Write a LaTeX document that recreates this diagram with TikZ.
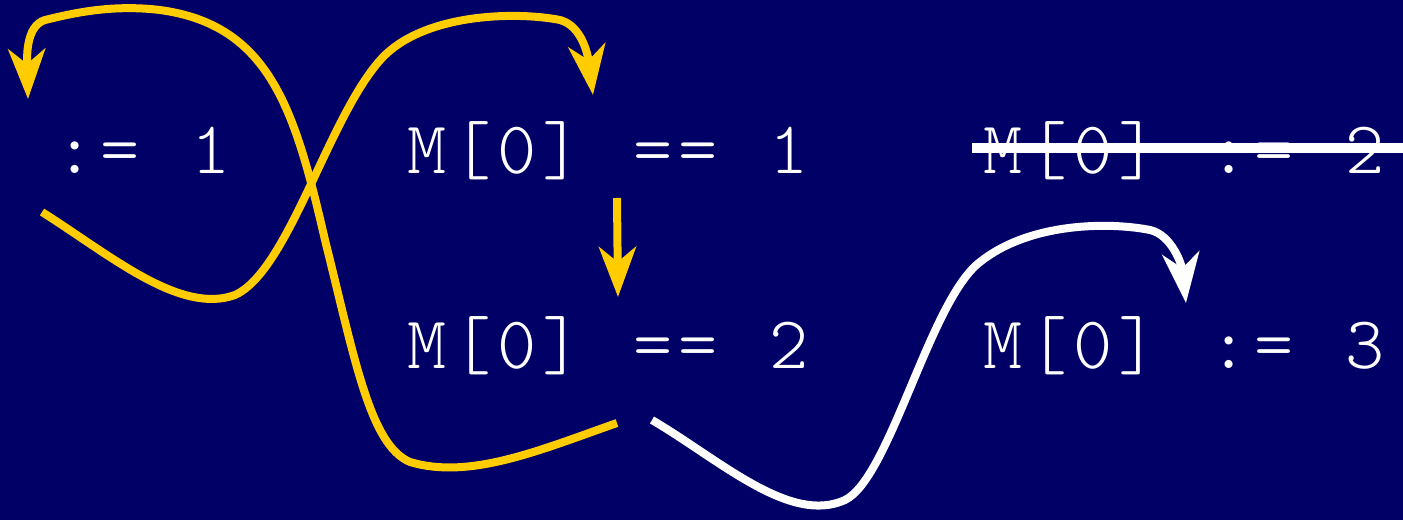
\documentclass[tikz,border=0pt]{standalone}
\usepackage{fontspec}
\newfontfamily\codefont{Latin Modern Mono Light}[LetterSpace=8,WordSpace=1.15]
\usetikzlibrary{arrows.meta}
\definecolor{slideNavy}{RGB}{0,0,102}
\definecolor{slideYellow}{RGB}{255,204,0}

\begin{document}
\begin{tikzpicture}[
  x=0.025cm,
  y=-0.025cm,
  stmt/.style={
    text=white,
    anchor=base west,
    inner sep=0pt,
    font=\codefont\fontsize{53}{60}\selectfont
  },
  flow/.style={
    line width=0.2cm,
    -{Stealth[length=1.25cm,width=0.925cm,inset=0.375cm]}
  }
]
  \useasboundingbox (0,0) rectangle (1403,520);
  \fill[slideNavy] (0,0) rectangle (1403,520);
  \node[stmt] (writeOne) at (55,173) {:= 1};
  \node[stmt] (readOne) at (407,173) {M[0] == 1};
  \node[stmt] (writeTwo) at (983,173) {M[0] := 2};
  \node[stmt] (readTwo) at (407,368) {M[0] == 2};
  \node[stmt] (writeThree) at (983,368) {M[0] := 3};
  \coordinate (outOne) at (42,212);
  \coordinate (inOne) at (593,95);
  \coordinate (outTwo) at (617,423);
  \coordinate (inTwo) at (28,99);
  \coordinate (outThree) at (652,420);
  \coordinate (inThree) at (1186,303);
  \coordinate (downFrom) at (617,198);
  \coordinate (downTo) at (618,297);
  \coordinate (strikeFrom) at (972,148);
  \coordinate (strikeTo) at (1403,148);
  \draw[flow,slideYellow] (outOne)
    .. controls (110,255) and (180,315) .. (235,295)
    .. controls (290,270) and (330,110) .. (385,55)
    .. controls (430,12) and (520,12) .. (560,20)
    .. controls (582,26) and (588,55) .. (inOne);
  \draw[flow,slideYellow] (outTwo)
    .. controls (540,450) and (470,480) .. (410,462)
    .. controls (370,445) and (355,360) .. (325,240)
    .. controls (295,110) and (270,25) .. (160,10)
    .. controls (110,4) and (70,14) .. (45,20)
    .. controls (25,26) and (27,60) .. (inTwo);
  \draw[flow,slideYellow] (downFrom) -- (downTo);
  \draw[flow,white] (outThree)
    .. controls (720,460) and (790,525) .. (845,500)
    .. controls (890,478) and (930,300) .. (980,262)
    .. controls (1030,222) and (1110,222) .. (1150,230)
    .. controls (1172,235) and (1182,265) .. (inThree);
  \draw[white,line width=0.25cm] (strikeFrom) -- (strikeTo);
\end{tikzpicture}
\end{document}
